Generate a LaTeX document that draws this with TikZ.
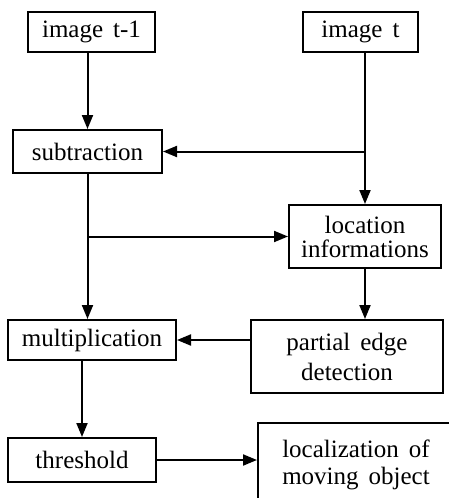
\documentclass[tikz,border=0pt]{standalone}
\usepackage{fontspec}
\setmainfont[WordSpace=1.6]{Liberation Serif}
\usetikzlibrary{arrows.meta}
\begin{document}
\begin{tikzpicture}[x=1pt,y=-1pt,
  box/.style={draw,line width=2pt,inner sep=0pt,align=center,font=\fontsize{25}{24}\selectfont},
  arr/.style={line width=2pt,-{Triangle[length=14pt,width=11pt]}},
  ln/.style={line width=2pt}]
\useasboundingbox (0,0) rectangle (448,498);
\node[box,minimum width=127pt,minimum height=40pt] (imt1) at (91.5,32) {image t-1};
\node[box,minimum width=115pt,minimum height=40pt] (imt) at (360.5,32) {image t};
\node[box,minimum width=149pt,minimum height=43pt] (sub) at (87.5,151.5) {subtraction};
\node[box,minimum width=152pt,minimum height=63pt] (loc) at (365,236.5) {location\\informations};
\node[box,minimum width=168pt,minimum height=40pt] (mul) at (92,340) {multiplication};
\node[box,minimum width=192pt,minimum height=73pt,font=\fontsize{25}{30}\selectfont] (ped) at (347,356.5) {partial edge\\detection};
\node[box,minimum width=196pt,minimum height=84pt,font=\fontsize{25}{27}\selectfont] (lmo) at (356,465) {localization of\\moving object};
\node[box,minimum width=148pt,minimum height=44pt] (thr) at (82,460) {threshold};
\draw[arr] (imt1.south -| sub.north) -- (sub.north);
\draw[arr] (imt.south -| loc.north) -- (loc.north);
\draw[arr] (sub.east -| loc.north) -- (sub.east);
\draw[ln] (sub.south) -- (sub.south |- loc.west);
\draw[arr] (sub.south |- loc.west) -- (sub.south |- mul.north);
\draw[arr] (sub.south |- loc.west) -- (loc.west);
\draw[arr] (loc.south) -- (loc.south |- ped.north);
\draw[arr] (mul.east -| ped.west) -- (mul.east);
\draw[arr] (thr.north |- mul.south) -- (thr.north);
\draw[arr] (thr.east) -- (thr.east -| lmo.west);
\end{tikzpicture}
\end{document}
